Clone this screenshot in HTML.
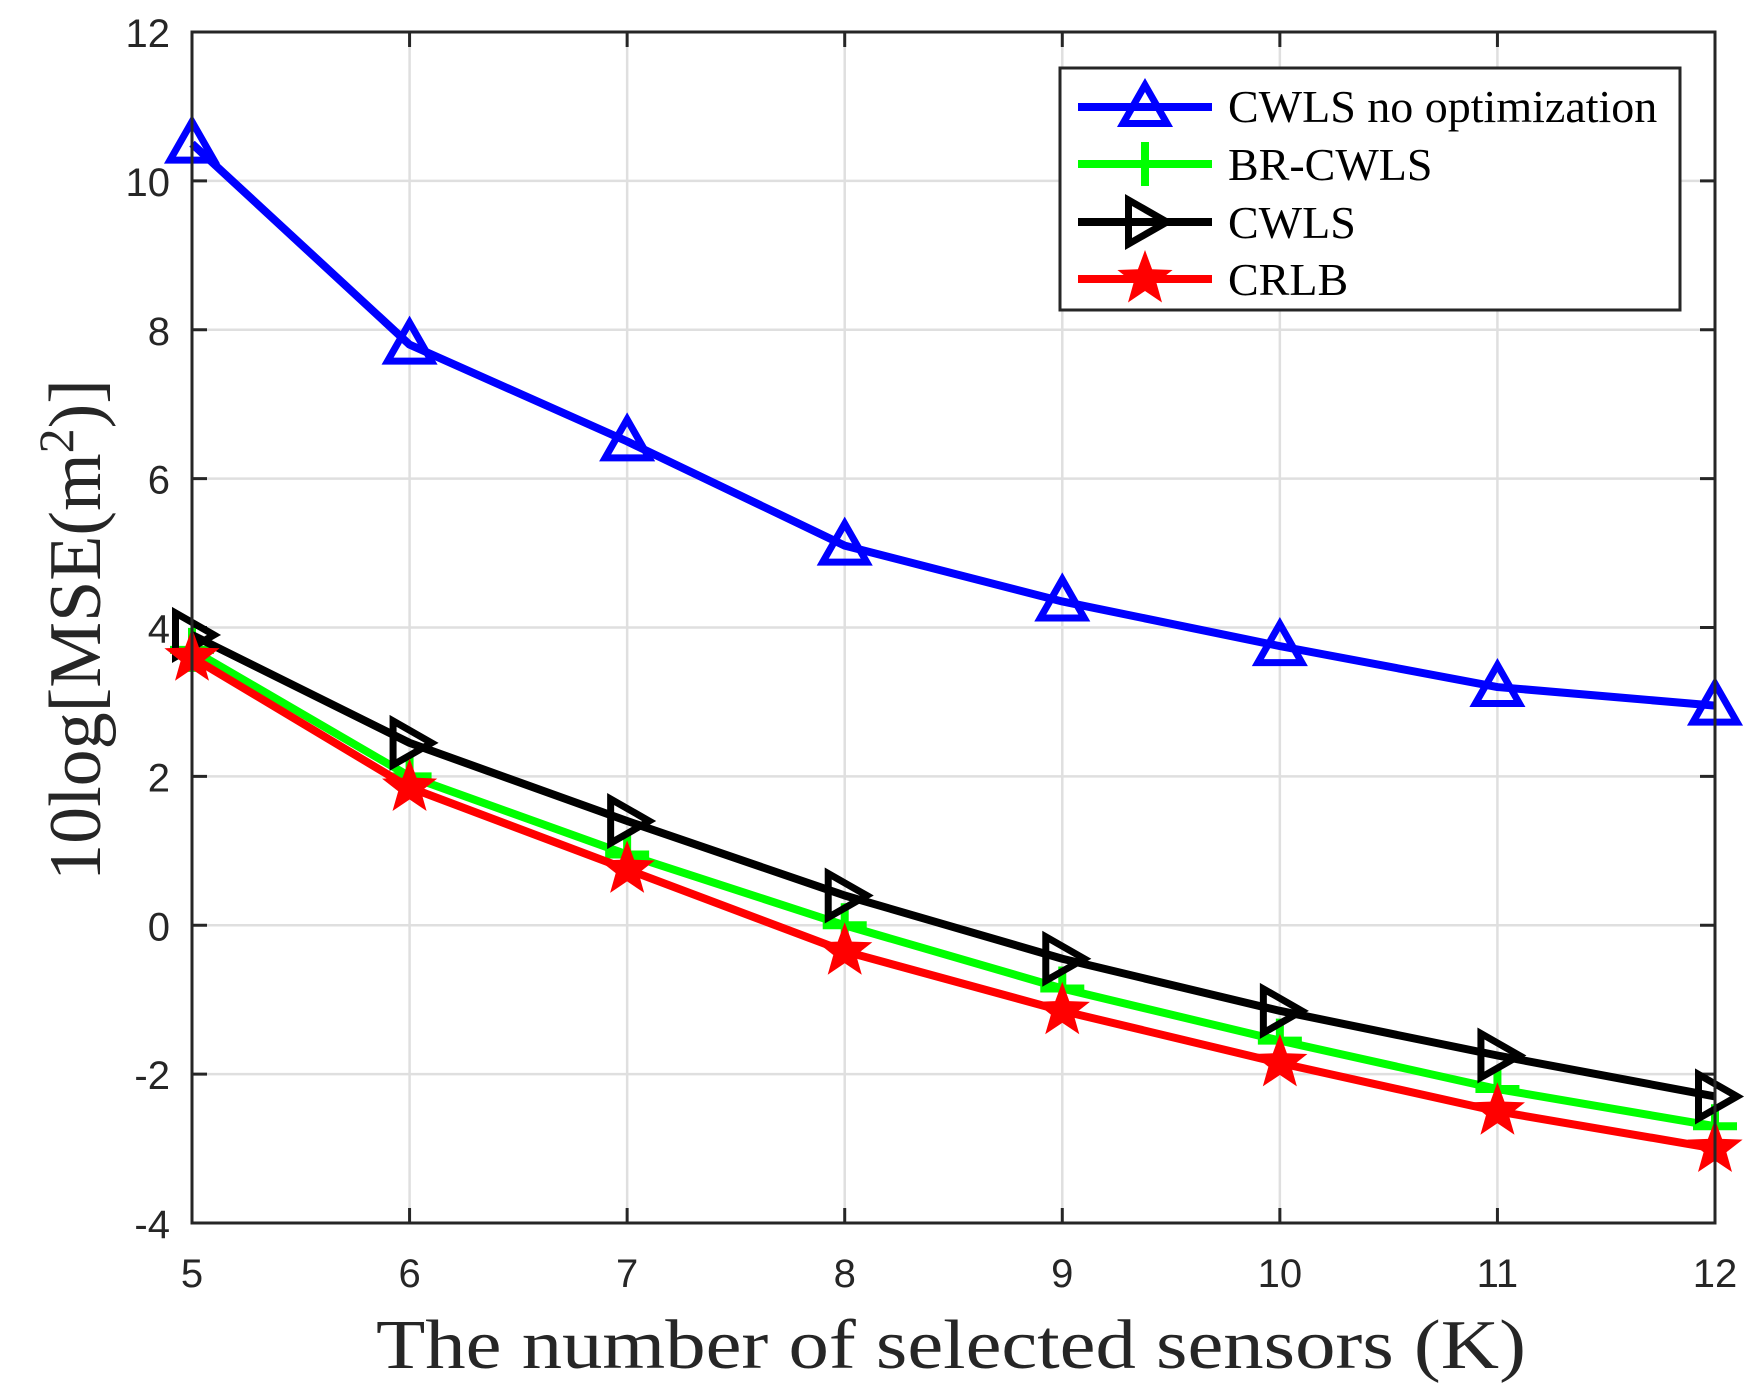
<!DOCTYPE html>
<html><head><meta charset="utf-8"><style>html,body{margin:0;padding:0;background:#fff}svg{display:block}</style></head>
<body>
<svg id="s" width="1764" height="1399" xmlns="http://www.w3.org/2000/svg">
<rect width="1764" height="1399" fill="#fff"/>
<g id="grid" stroke="#dfdfdf" stroke-width="2.5"></g>
<g id="ticks" font-family="Liberation Sans, sans-serif" font-size="40" fill="#262626"></g>
<g id="series"></g>
<rect x="192" y="32" width="1523" height="1191" fill="none" stroke="#262626" stroke-width="3"/>
<g>
<rect x="1060" y="68" width="620" height="242" fill="#fff" stroke="#262626" stroke-width="3"/>
<g id="leg"></g>
<g font-family="Liberation Serif, serif" font-size="46" fill="#000">
<text x="1228" y="122">CWLS no optimization</text>
<text x="1228" y="180">BR-CWLS</text>
<text x="1228" y="238">CWLS</text>
<text x="1228" y="295">CRLB</text>
</g>
</g>
<text x="951" y="1368" text-anchor="middle" font-family="Liberation Serif, serif" font-size="70" textLength="1150" lengthAdjust="spacingAndGlyphs" fill="#262626">The number of selected sensors (K)</text>
<text transform="translate(100,630) rotate(-90)" text-anchor="middle" font-family="Liberation Serif, serif" font-size="74" fill="#262626">10log[MSE(m<tspan dy="-27" font-size="50">2</tspan><tspan dy="27">)]</tspan></text>
</svg>
<script>
const L=192,R=1715,T=32,B=1223;
const X=k=>L+(k-5)*(R-L)/7, Y=v=>T+(12-v)*(B-T)/16;
const NS="http://www.w3.org/2000/svg";
function el(p,t,a){const e=document.createElementNS(NS,t);for(const k in a)e.setAttribute(k,a[k]);p.appendChild(e);return e;}
const g=document.getElementById('grid'),tk=document.getElementById('ticks'),sr=document.getElementById('series');
for(let k=6;k<=11;k++){el(g,'line',{x1:X(k),x2:X(k),y1:T,y2:B});}
for(let v=-2;v<=10;v+=2){el(g,'line',{x1:L,x2:R,y1:Y(v),y2:Y(v)});}
for(let k=5;k<=12;k++){el(tk,'line',{x1:X(k),x2:X(k),y1:B,y2:B-15,stroke:'#262626','stroke-width':3});el(tk,'line',{x1:X(k),x2:X(k),y1:T,y2:T+15,stroke:'#262626','stroke-width':3});
 const t=el(tk,'text',{x:X(k),y:B+64,'text-anchor':'middle'});t.textContent=k;}
for(let v=-4;v<=12;v+=2){el(tk,'line',{x1:L,x2:L+15,y1:Y(v),y2:Y(v),stroke:'#262626','stroke-width':3});el(tk,'line',{x1:R,x2:R-15,y1:Y(v),y2:Y(v),stroke:'#262626','stroke-width':3});
 const t=el(tk,'text',{x:L-22,y:Y(v)+15,'text-anchor':'end'});t.textContent=v;}
function marker(p,type,x,y,c){
 const s=22;
 if(type=='tri')el(p,'polygon',{points:`${x},${y-s} ${x-s},${y+s*0.75} ${x+s},${y+s*0.75}`,fill:'none',stroke:c,'stroke-width':7});
 else if(type=='rtri')el(p,'polygon',{points:`${x+s},${y} ${x-s*0.75},${y-s} ${x-s*0.75},${y+s}`,fill:'none',stroke:c,'stroke-width':7});
 else if(type=='plus'){el(p,'line',{x1:x-s,x2:x+s,y1:y,y2:y,stroke:c,'stroke-width':8});el(p,'line',{x1:x,x2:x,y1:y-s,y2:y+s,stroke:c,'stroke-width':8});}
 else if(type=='star'){let pts=[];for(let i=0;i<10;i++){const r=i%2?12:29,a=-Math.PI/2+i*Math.PI/5;pts.push((x+r*Math.cos(a)).toFixed(1)+','+(y+r*Math.sin(a)).toFixed(1));}
  el(p,'polygon',{points:pts.join(' '),fill:c});}
}
const S=[
 ['#0000ff','tri',[10.5,7.8,6.5,5.1,4.35,3.75,3.2,2.95]],
 ['#00ff00','plus',[3.7,2.0,0.95,0.0,-0.85,-1.55,-2.2,-2.7]],
 ['#000000','rtri',[3.9,2.45,1.4,0.4,-0.45,-1.15,-1.75,-2.3]],
 ['#ff0000','star',[3.6,1.85,0.75,-0.35,-1.15,-1.85,-2.5,-3.0]]];
const order=[1,2,0,3];
order.forEach(i=>{const [c,m,d]=S[i];
 el(sr,'polyline',{points:d.map((v,j)=>X(5+j)+','+Y(v)).join(' '),fill:'none',stroke:c,'stroke-width':8,'stroke-linejoin':'round'});
 d.forEach((v,j)=>marker(sr,m,X(5+j),Y(v),c));});
const lg=document.getElementById('leg');const ly=[107,164,222,279];
S.forEach(([c,m],i)=>{el(lg,'line',{x1:1078,x2:1212,y1:ly[i],y2:ly[i],stroke:c,'stroke-width':8});marker(lg,m,1145,ly[i],c);});
</script>
</body></html>
